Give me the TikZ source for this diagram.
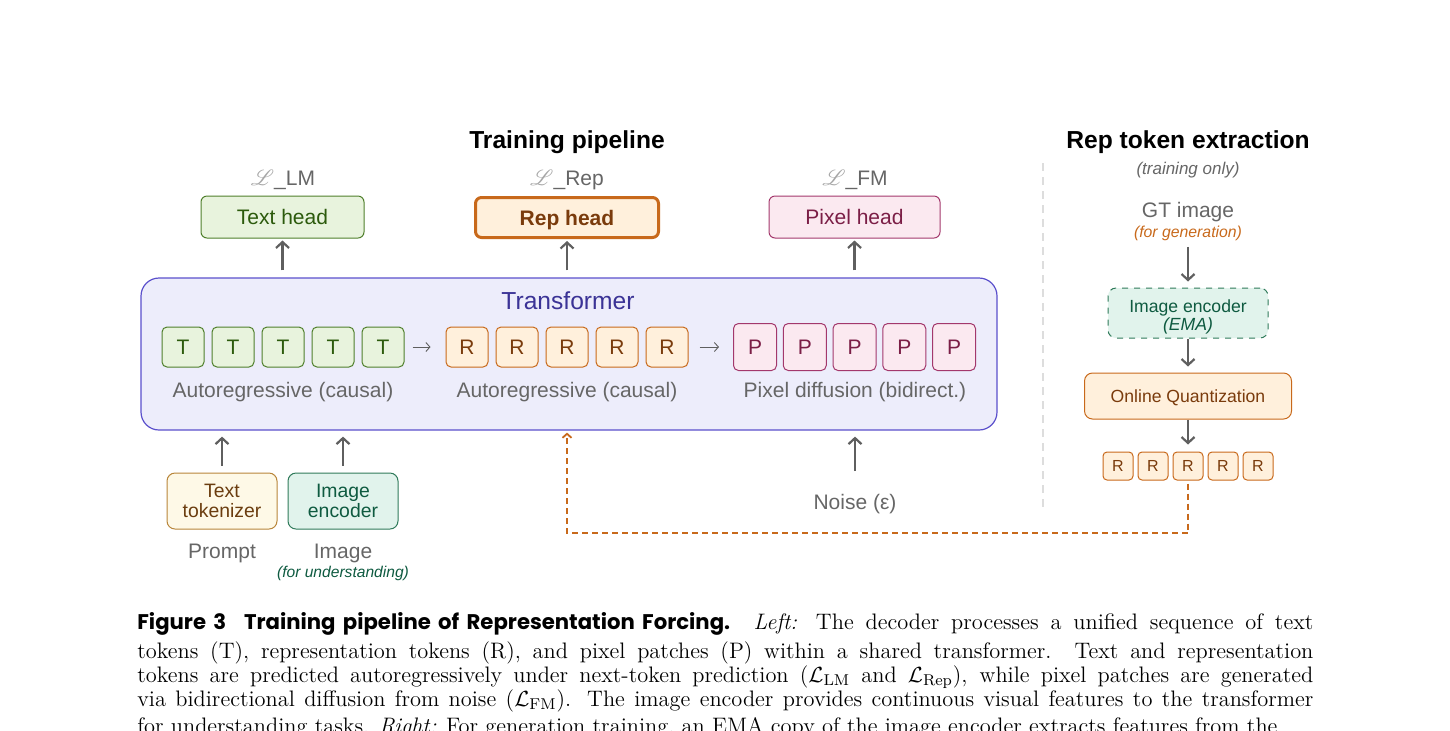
\documentclass[tikz,border=0pt]{standalone}
\usepackage{fontspec}
\usepackage{mathrsfs}
\usetikzlibrary{arrows.meta}

\newfontfamily\diagfont{Liberation Sans}
\newfontfamily\capfont{Poppins}

\definecolor{txtgray}{HTML}{666666}
\definecolor{arrgray}{HTML}{5F5F5F}
\definecolor{scriptgray}{HTML}{A6A6A6}
\definecolor{sepgray}{HTML}{DDDDDD}
\definecolor{greenfill}{HTML}{E8F3DD}
\definecolor{greenline}{HTML}{4F7F2B}
\definecolor{greentext}{HTML}{2C5A0C}
\definecolor{orangefill}{HTML}{FFF0DC}
\definecolor{orangeline}{HTML}{C8691B}
\definecolor{orangetext}{HTML}{7A3B0C}
\definecolor{pinkfill}{HTML}{FBE9F0}
\definecolor{pinkline}{HTML}{A3386C}
\definecolor{pinktext}{HTML}{7B1E46}
\definecolor{tffill}{HTML}{EDEDFB}
\definecolor{tfline}{HTML}{5B50CC}
\definecolor{tftext}{HTML}{3B3396}
\definecolor{tokfill}{HTML}{FEF9E7}
\definecolor{tokline}{HTML}{B8853A}
\definecolor{toktext}{HTML}{6B3D0F}
\definecolor{encfill}{HTML}{E1F3EC}
\definecolor{encline}{HTML}{2F7A5A}
\definecolor{enctext}{HTML}{0E5A40}

\newcommand{\scriptloss}{\textcolor{scriptgray}{$\mathscr{L}$}}

\tikzset{
  title/.style={inner sep=0pt, yshift=-1pt, font=\diagfont\bfseries\fontsize{12.3}{14}\selectfont},
  note/.style={inner sep=0pt, yshift=-1pt, font=\diagfont\itshape\fontsize{8.5}{10}\selectfont},
  lbl/.style={inner sep=0pt, yshift=-1.2pt, text=txtgray, font=\diagfont\fontsize{10.5}{12}\selectfont},
  head/.style={rounded corners=3pt, line width=0.5pt, minimum height=21pt, inner sep=0pt, text depth=0pt,
    font=\diagfont\fontsize{10.5}{12}\selectfont},
  tok/.style={rounded corners=2.5pt, line width=0.5pt, minimum width=21pt, minimum height=20pt,
    inner sep=0pt, font=\diagfont\fontsize{10.5}{12}\selectfont},
  inbox/.style={rounded corners=4pt, line width=0.5pt, minimum width=55pt, minimum height=28pt,
    inner sep=0pt, align=center, font=\diagfont\fontsize{9.7}{10}\selectfont},
  uparrow/.style={draw=arrgray, line width=1.1pt, -{Straight Barb[length=3pt,width=6.5pt]}},
  seqarrow/.style={draw=arrgray, line width=0.45pt, -{Straight Barb[length=2pt,width=4.5pt]}},
  repdash/.style={draw=orangeline, line width=0.9pt, dash pattern=on 3pt off 2pt,
    -{Straight Barb[length=2pt,width=4.5pt]}},
}

\begin{document}
\begin{tikzpicture}[x=0.5pt,y=-0.5pt]
  \useasboundingbox (0,0) rectangle (1450,730);

  % Titles
  \node[title] (traintitle) at (567,140) {Training pipeline};
  \node[title] (reptitle) at (1188,140) {Rep token extraction};
  \node[note, text=txtgray] (trainonly) at (1188,168) {(training only)};

  % Losses and heads
  \node[lbl] (losslm) at (283,178) {\scriptloss\_LM};
  \node[lbl] (lossrep) at (567,178) {\scriptloss\_Rep};
  \node[lbl] (lossfm) at (855,178) {\scriptloss\_FM};

  \node[head, fill=greenfill, draw=greenline, text=greentext, minimum width=81.5pt] (texthead) at (282.5,217) {Text head};
  \node[head, fill=orangefill, draw=orangeline, line width=1.5pt, text=orangetext, minimum width=91.5pt, minimum height=20pt,
    font=\diagfont\bfseries\fontsize{10.5}{12}\selectfont] (rephead) at (567,217.5) {Rep head};
  \node[head, fill=pinkfill, draw=pinkline, text=pinktext, minimum width=85.5pt] (pixelhead) at (854.5,217) {Pixel head};

  % Transformer
  \node[draw=tfline, fill=tffill, rounded corners=9pt, line width=0.6pt, minimum width=428pt, minimum height=76pt] (transformer) at (569,354) {};
  \node[inner sep=0pt, yshift=-0.5pt, text=tftext, font=\diagfont\fontsize{12.3}{14}\selectfont] (tflabel) at (568,300) {Transformer};

  \foreach \i in {1,...,5} {
    \node[tok, fill=greenfill, draw=greenline, text=greentext] (t\i) at ({133+50*\i},347) {T};
    \node[tok, fill=orangefill, draw=orangeline, text=orangetext] (r\i) at ({417+50*\i},347) {R};
    \node[tok, fill=pinkfill, draw=pinkline, text=pinktext, minimum width=21.5pt, minimum height=23.5pt] (p\i) at ({705.25+49.75*\i},347) {P};
  }
  \draw[seqarrow, shorten <=4pt, shorten >=7.5pt] (t5) -- (r1);
  \draw[seqarrow, shorten <=5.5pt, shorten >=7pt] (r5) -- (p1);

  \node[lbl] (arlabel) at (283,390) {Autoregressive (causal)};
  \node[lbl] (replabel) at (567,390) {Autoregressive (causal)};
  \node[lbl] (pixlabel) at (855,390) {Pixel diffusion (bidirect.)};

  \foreach \h in {texthead, rephead, pixelhead} {
    \draw[uparrow, shorten <=3.5pt, shorten >=1pt] (transformer.north -| \h.south) -- (\h.south);
  }

  % Inputs
  \node[inbox, fill=tokfill, draw=tokline, text=toktext] (tokenizer) at (222,501) {Text\\tokenizer};
  \node[inbox, fill=encfill, draw=encline, text=enctext] (encoder) at (343,501) {Image\\encoder};
  \node[lbl] (prompt) at (222,551) {Prompt};
  \node[lbl] (image) at (343,551) {Image};
  \node[note, text=enctext, font=\diagfont\itshape\fontsize{7.8}{9}\selectfont] (forund) at (343,571) {(for understanding)};
  \node[lbl] (noise) at (855,502) {Noise (ε)};

  \draw[uparrow, shorten <=3.5pt, shorten >=3pt] (tokenizer) -- (tokenizer |- transformer.south);
  \draw[uparrow, shorten <=3.5pt, shorten >=3pt] (encoder) -- (encoder |- transformer.south);
  \draw[uparrow, shorten <=11.5pt, shorten >=3pt] (noise) -- (noise |- transformer.south);

  % Rep token extraction
  \draw[sepgray, line width=0.8pt, dash pattern=on 4pt off 3pt] (1043,163) -- (1043,507);

  \node[lbl] (gtimage) at (1188,210) {GT image};
  \node[note, text=orangeline, font=\diagfont\itshape\fontsize{7.9}{9}\selectfont] (forgen) at (1188,231) {(for generation)};
  \node[rounded corners=4pt, line width=0.5pt, dashed, fill=encfill, draw=encline, minimum width=80pt, minimum height=25pt,
    inner sep=0pt] (emaenc) at (1188,313) {};
  \node[inner sep=0pt, align=center, text=enctext, font=\diagfont\fontsize{8.8}{9}\selectfont] (emalabel) at (1188,317) {Image encoder\\{\itshape (EMA)}};
  \node[rounded corners=4pt, line width=0.5pt, fill=orangefill, draw=orangeline, text=orangetext, minimum width=103.5pt, minimum height=23pt,
    inner sep=0pt, text depth=0pt, font=\diagfont\fontsize{8.8}{10}\selectfont] (quant) at (1188,396) {Online Quantization};
  \foreach \i in {1,...,5} {
    \node[tok, fill=orangefill, draw=orangeline, text=orangetext, minimum width=15pt, minimum height=14pt, rounded corners=2pt,
      font=\diagfont\fontsize{8}{9}\selectfont] (rr\i) at ({1083+35*\i},466) {R};
  }

  \draw[uparrow, shorten <=3pt, shorten >=3pt] (forgen) -- (emaenc);
  \draw[uparrow, shorten >=3pt] (emaenc) -- (quant);
  \draw[uparrow, shorten >=3.5pt] (quant) -- (rr3);

  % Feedback of rep tokens
  \coordinate (fbturn) at (900,533);
  \draw[repdash, shorten <=1.5pt, shorten >=1pt] (rr3.south) |- (fbturn) -| (transformer.south -| r3.south);

  % Caption
  \node[anchor=base west, inner sep=0pt, text width=588pt, align=justify, font=\fontsize{11.2}{12}\selectfont] (caption) at (137,629)
    {{\capfont\bfseries\fontsize{10.6}{12}\selectfont Figure 3\hspace{0.5em} Training pipeline of Representation Forcing.} \textit{Left:} The decoder processes a unified sequence of text\rule[-5.1pt]{0pt}{0pt}\linebreak
    tokens (T), representation tokens (R), and pixel patches (P) within a shared transformer. Text and representation\linebreak
    tokens are predicted autoregressively under next-token prediction ($\mathcal{L}_{\mathrm{LM}}$ and $\mathcal{L}_{\mathrm{Rep}}$), while pixel patches are generated\linebreak
    via bidirectional diffusion from noise ($\mathcal{L}_{\mathrm{FM}}$). The image encoder provides continuous visual features to the transformer\rule[-4.7pt]{0pt}{0pt}\linebreak
    for understanding tasks. \textit{Right:} For generation training, an EMA copy of the image encoder extracts features from the};
\end{tikzpicture}
\end{document}
